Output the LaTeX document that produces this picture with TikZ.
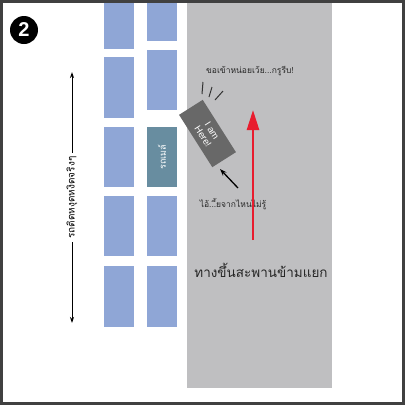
\documentclass[tikz,border=0pt]{standalone}
\usepackage{fontspec}
\setmainfont{Liberation Sans}
\newfontfamily\thaifont[Script=Thai]{Loma}
\usepackage{xcolor}
\usetikzlibrary{arrows.meta, positioning}
\definecolor{road}{RGB}{191,191,193}
\definecolor{building}{RGB}{143,166,214}
\definecolor{busblue}{RGB}{104,141,160}
\definecolor{cargray}{RGB}{104,104,104}
\definecolor{framegray}{RGB}{64,64,64}
\definecolor{lanered}{RGB}{232,28,46}
\tikzset{
    building/.style={fill=building, draw=none},
    busstop/.style={rectangle, fill=busblue, text=white, minimum width=30pt, minimum height=60pt, inner sep=0pt, font=\thaifont\fontsize{9}{9}\selectfont},
    car/.style={rectangle, fill=cargray, text=white, minimum width=62pt, minimum height=28pt, inner sep=1pt, align=center, font=\fontsize{9.5}{10.5}\selectfont},
    badge/.style={circle, fill=black, text=white, minimum size=28pt, inner sep=0pt, font=\bfseries\fontsize{20}{20}\selectfont},
    speech/.style={inner sep=1pt, text=black!85, font=\thaifont\fontsize{8.5}{9}\selectfont},
    roadlabel/.style={inner sep=1pt, text=black!85, font=\thaifont\fontsize{13.5}{14}\selectfont},
    jamlabel/.style={fill=white, inner sep=4pt, rotate=90, font=\thaifont\fontsize{10}{10}\selectfont},
    dblarrow/.style={{Stealth[length=6pt,width=4pt]}-{Stealth[length=6pt,width=4pt]}, line width=1pt},
    lanearrow/.style={-{Triangle[length=20pt,width=12pt]}, lanered, line width=2.5pt},
    pointer/.style={-{Stealth[length=7pt,width=5pt]}, line width=1.3pt},
    shout/.style={line width=1pt, black!80},
    frame/.style={draw=framegray, line width=2.5pt}
}

\begin{document}
\begin{tikzpicture}[x=1pt, y=-1pt]
    \useasboundingbox (0,0) rectangle (405,405);
    \fill[white] (0,0) rectangle (405,405);

    % Road
    \fill[road] (187,0) rectangle (332,388);

    % Buildings
    \foreach \top/\bot in {0/49,57/118,127/187,196/256,266/327}
        \fill[building] (104,\top) rectangle (134,\bot);
    \foreach \top/\bot in {0/41,50/110,196/256,266/327}
        \fill[building] (147,\top) rectangle (177,\bot);
    \node[busstop] (busstop) at (162,157) {\rotatebox{90}{รถเมล์}};

    % Step badge
    \node[badge] (step) at (24,30) {2};

    % Traffic jam arrow
    \coordinate (jamtop) at (72,72);
    \coordinate (jambot) at (72,323);
    \draw[dblarrow] (jamtop) -- (jambot) node[jamlabel, midway] (jam) {รถติดหงุดหงิดจริงๆ};

    % Other driver
    \node[speech] (curse) at (233,204) {ไอ้...ี้ยจากไหนไม่รู้};
    \coordinate (driver) at (238,188);
    \coordinate (cutin) at (220,169);
    \draw[pointer] (driver) -- (cutin);

    % Lane arrow
    \coordinate (lanestart) at (253,240);
    \coordinate (laneend) at (253,110);
    \draw[lanearrow] (lanestart) -- (laneend);

    % Car
    \node[car, rotate=-57.6] (car) at (207.5,133.5) {I am\\Here!};
    \draw[shout] (203,82) -- (202,94);
    \draw[shout] (212,87) -- (209,97);
    \draw[shout] (223,91) -- (215,100);
    \node[speech] (shouttext) at (250,71) {ขอเข้าหน่อยเว้ย...กรูรีบ!};

    % Road label
    \node[roadlabel] (ramp) at (261,270) {ทางขึ้นสะพานข้ามแยก};

    % Frame
    \draw[frame] (1.5,1.5) rectangle (403.5,403.5);
\end{tikzpicture}
\end{document}
